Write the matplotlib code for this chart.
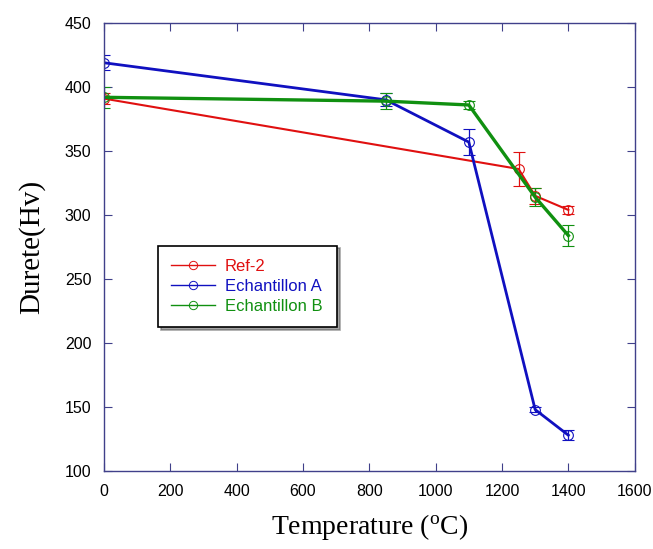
import matplotlib

matplotlib.use("Agg")
import matplotlib.pyplot as plt
from matplotlib.lines import Line2D

# Data
temp_ref = [0, 1250, 1300, 1400]
hv_ref = [391, 336, 315, 304]
err_ref = [4, 13, 6, 3]

temp_a = [0, 850, 1100, 1300, 1400]
hv_a = [419, 390, 357, 148, 128]
err_a = [6, 5, 10, 2, 4]

temp_b = [0, 850, 1100, 1300, 1400]
hv_b = [392, 389, 386, 314, 284]
err_b = [8, 6, 3, 7, 8]

RED = "#e01010"
BLUE = "#1010c0"
GREEN = "#109010"
SPINE = "#40408a"

fig = plt.figure(figsize=(6.53, 5.49), dpi=100)
ax = fig.add_axes([0.159, 0.142, 0.813, 0.816])

series = [
    (temp_ref, hv_ref, err_ref, RED, 1.5, "Ref-2"),
    (temp_a, hv_a, err_a, BLUE, 2.0, "Echantillon A"),
    (temp_b, hv_b, err_b, GREEN, 2.4, "Echantillon B"),
]
handles = []
for x, y, e, c, lw, lab in series:
    ax.errorbar(x, y, yerr=e, color=c, lw=lw, marker="o", ms=7, mfc="none",
                mew=0.8, ecolor=c, elinewidth=0.9, capsize=4)
    handles.append(Line2D([], [], color=c, lw=1.0, marker="o", ms=6,
                          mfc="none", mew=0.7, label=lab))

ax.set_xlim(0, 1600)
ax.set_ylim(100, 450)
ax.set_xticks(range(0, 1601, 200))
ax.set_yticks(range(100, 451, 50))
for s in ax.spines.values():
    s.set_color(SPINE)
    s.set_linewidth(1.0)
ax.tick_params(direction="in", length=6, color=SPINE, top=True, right=True,
               labelsize=11.5, pad=9)
for t in ax.get_xticklabels() + ax.get_yticklabels():
    t.set_family("Liberation Sans")

ax.set_xlabel("Temperature ($\\mathregular{^o}$C)", family="Liberation Serif",
              fontsize=20, labelpad=10)
ax.set_ylabel("Durete(Hv)", family="Liberation Serif", fontsize=21, labelpad=14)

leg = ax.legend(handles=handles, loc="lower left",
                bbox_to_anchor=(0.102, 0.321, 0.338, 0.177),
                mode="expand", frameon=True, fancybox=False, shadow=True,
                prop={"family": "Liberation Sans", "size": 12},
                handlelength=2.6, handletextpad=0.6, borderpad=0.8,
                labelspacing=0.3, borderaxespad=0)
leg.get_frame().set_edgecolor("black")
leg.get_frame().set_linewidth(1.2)
for txt, (_, _, _, c, _, _) in zip(leg.get_texts(), series):
    txt.set_color(c)

fig.savefig("out.png", dpi=100)
